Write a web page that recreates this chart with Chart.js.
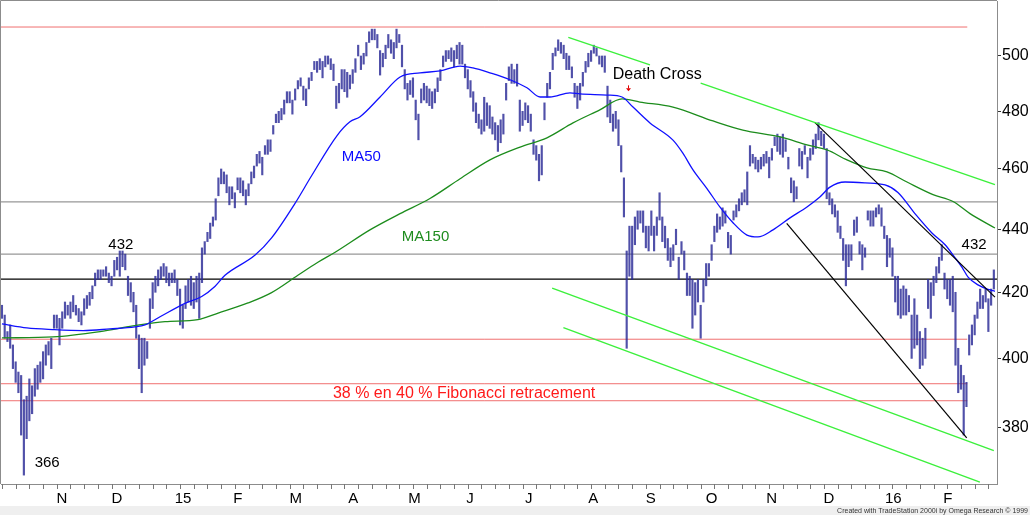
<!DOCTYPE html>
<html>
<head>
<meta charset="utf-8">
<title>AEX</title>
<script src="https://cdn.jsdelivr.net/npm/chart.js@4.4.1/dist/chart.umd.min.js"></script>
<style>
  html, body { margin: 0; padding: 0; background: #fff; }
  canvas { display: block; }
</style>
</head>
<body>
<canvas id="chart" width="1030" height="515"></canvas>
<script>
// daily bars, index 0 = mid Oct 2014, last = end Feb 2016
var lows = [
  412,406,405,403,397,393,390,378,367,377,
  382,384,389,391,393,394,398,401,397,409,
  409,404,409,412,413,412,414,413,411,410,
  413,415,416,418,422,424,424,425,425,423,
  422,425,427,425,428,427,419,417,414,406,
  397,390,398,400,409,415,420,422,424,425,
  423,422,423,423,419,410,409,415,417,416,
  415,417,412,423,432,436,437,441,443,451,
  455,455,452,448,450,447,453,452,451,448,
  451,455,457,461,462,458,465,465,466,472,
  476,476,477,479,483,483,479,484,488,489,
  484,482,488,491,495,494,495,492,496,497,
  495,491,481,483,488,487,485,488,490,494,
  500,495,497,500,505,506,506,503,493,496,
  499,503,501,499,503,505,496,488,484,486,
  485,477,470,483,484,483,482,481,483,487,
  491,496,498,499,498,496,499,497,497,492,
  488,485,480,476,474,472,473,475,474,472,
  470,466,469,472,484,491,490,490,489,473,
  475,477,476,473,465,463,456,458,477,485,
  488,495,500,502,501,499,495,495,492,485,
  481,484,489,494,496,498,501,500,497,496,
  494,478,476,473,474,468,459,444,403,425,
  424,435,440,442,439,434,433,438,433,438,
  443,436,434,430,428,430,435,424,432,427,
  419,419,409,413,417,406,417,422,425,430,
  436,439,440,441,442,434,432,443,444,446,
  448,449,448,461,462,460,459,460,461,462,
  457,463,468,466,465,464,466,460,452,449,
  450,461,460,465,457,463,465,467,470,468,
  467,450,448,445,444,439,437,430,422,428,
  430,438,439,432,427,431,443,441,441,444,
  445,441,437,428,431,425,417,413,412,413,
  413,414,400,403,404,397,398,400,415,412,
  419,423,426,430,421,418,416,414,398,390,
  391,378,386,401,404,407,412,415,415,417,
  408,416,421
];
var highs = [
  416,413,408,410,404,399,396,395,388,389,
  394,392,397,398,399,402,404,405,406,413,
  413,412,414,417,416,417,419,416,415,414,
  418,419,420,422,426,427,427,427,428,426,
  425,430,431,433,433,432,425,423,420,416,
  407,406,406,405,418,423,425,427,428,429,
  428,426,426,427,424,421,416,422,424,425,
  423,425,426,434,436,439,442,444,450,457,
  460,459,458,454,454,452,457,457,456,453,
  455,459,461,465,466,464,468,470,470,475,
  479,480,481,484,487,487,484,488,491,492,
  489,488,492,494,498,498,499,498,500,500,
  499,497,489,490,495,495,494,493,495,499,
  504,500,501,505,509,510,510,508,502,501,
  504,508,506,505,510,508,504,495,490,491,
  492,484,479,488,490,489,488,487,488,492,
  495,500,502,502,503,502,504,505,504,497,
  495,491,487,483,479,477,485,483,482,478,
  476,475,477,479,490,496,497,495,497,484,
  480,483,482,479,470,468,465,468,483,490,
  494,501,503,506,505,504,501,500,496,490,
  489,490,494,498,501,502,504,503,500,500,
  500,489,484,479,480,477,468,457,433,441,
  441,444,446,446,446,441,441,446,441,444,
  452,444,441,437,434,435,440,431,436,433,
  426,425,424,423,424,416,424,429,429,435,
  441,445,444,447,446,439,438,446,448,450,
  452,453,459,468,465,464,463,464,465,466,
  464,467,471,472,471,472,470,464,457,456,
  454,467,466,468,464,467,470,472,476,473,
  472,467,452,450,448,446,441,437,435,435,
  435,443,444,436,435,434,446,446,446,447,
  448,447,441,438,437,434,425,425,421,422,
  421,419,413,418,413,408,406,409,424,423,
  425,428,431,435,426,424,424,425,420,403,
  398,395,393,407,410,413,417,421,419,421,
  418,421,427
];

// moving averages (bar index, level)
var ma50X = [0,9.1,18.6,29.6,39.4,48.5,52.2,57.7,66.8,72.9,77.8,81.4,92.4,98.4,106.9,113,122.3,127,130.7,138,
  145.3,152.6,159.9,167.2,171.9,178.1,185.4,191.6,196.4,200,207.3,211,220.8,226.3,230.3,236.5,244.9,248.5,252.2,257.3,
  262,266.8,271.9,275.9,281.4,287.6,293.8,298.5,302.2,307.7,315,322.3,327,333.2,339.4,344.2,347.8,350.4,352.6,356.2,359.9,362.4];
var ma50Y = [410.3,409.1,408.6,408.3,408.8,409.4,410,412.5,416.6,418.7,421.9,425.3,431.7,437.2,448.4,457.7,471.5,476.3,478.1,485.1,
  492.3,493.8,494.5,496.3,495.6,493.8,491.3,488.4,485.1,485.1,486.6,486.2,485.8,485.1,481.5,475.9,469.9,465.4,459.7,453.4,
  447.3,442.1,438.1,437.5,439.8,443.7,447.3,450.6,453.9,455.6,455.3,454.6,452.1,445.1,438.8,435,430.9,427.8,424.7,422.3,420.9,420.3];
var ma150X = [0,18.6,35.8,47.8,59.5,71.5,78.9,89.8,98.4,108,115.3,121.6,134.3,145.3,156.2,167.2,178.1,189.1,198.9,208.4,
  218.2,226.3,232.8,244.9,259.5,270.4,284,293.8,301.1,308.4,315.7,323,330.3,339.8,347.1,353.3,362.4];
var ma150Y = [406.1,406.4,408,409.7,411,411.6,413.6,416.7,419.9,425.3,429.4,432.6,439.8,445.1,450.1,456.7,463.1,467.5,470.7,475.9,
  480.5,484.4,483.3,481.5,476.6,473.4,471,468.3,466.5,463.1,460.4,459,455.6,451.4,449.1,445.1,440.4];

// horizontal levels
var fibLevels = [510.8, 405.7, 392.6, 387.7];
var fibEnd = 352.3;
var greyLevels = [449, 432];
var blackLevel = 424.1;

// trend lines [x1, y1, x2, y2]
var greenLines = [
  [206.7, 506.9, 236.5, 496.7],
  [255, 490.1, 362.4, 454.7],
  [200.8, 421.3, 362, 373.7],
  [204.9, 409.2, 356.9, 365.1]
];
var blackLines = [
  [296.7, 476, 362.4, 418.5],
  [286.4, 441.9, 352.1, 377.2]
];

// axis ticks
var monthPos = [21.9,42,66.1,86.1,107.2,128.2,150.6,170.8,192.3,215.8,236.8,259,280.9,301.8,325.3,345.2];
var monthLabels = ["N","D","15","F","M","A","M","J","J","A","S","O","N","D","16","F"];
var yTicks = [380, 400, 420, 440, 460, 480, 500];

// text notes
var noteText = ["432", "366", "MA50", "MA150", "Death Cross", "432", "38 % en 40 % Fibonacci retracement"];
var noteX = [43.4, 16.5, 124, 145.9, 222.9, 354.8, 120.8];
var noteY = [435.1, 370.4, 464.2, 437.6, 493.0, 435.1, 389.7];
var crossX = 228.6, crossY = 488.2;

var fontFamily = "'Liberation Sans', Arial, sans-serif";
var noteStyle = [
  { color: "#000", align: "center" },
  { color: "#000", align: "center" },
  { color: "#0a0aff", align: "left" },
  { color: "#1e8c1e", align: "left" },
  { color: "#000", align: "left", size: 16 },
  { color: "#000", align: "center" },
  { color: "#ff1a1a", align: "left", size: 16 }
];

function segment(x1, y1, x2, y2) {
  return [{ x: x1, y: y1 }, { x: x2, y: y2 }];
}

var datasets = [];

fibLevels.forEach(function (v) {
  datasets.push({ type: "line", data: segment(-0.35, v, fibEnd, v), borderColor: "#f07070", borderWidth: 1, pointRadius: 0, order: 6 });
});
greyLevels.forEach(function (v) {
  datasets.push({ type: "line", data: segment(-0.35, v, 363.15, v), borderColor: "#979797", borderWidth: 1.2, pointRadius: 0, order: 6 });
});
datasets.push({ type: "line", data: segment(-0.35, blackLevel, 363.15, blackLevel), borderColor: "#000", borderWidth: 1.2, pointRadius: 0, order: 6 });

datasets.push({
  type: "bar",
  data: lows.map(function (lo, i) { return { x: i, y: [lo, highs[i]] }; }),
  backgroundColor: "rgba(42,42,150,0.82)",
  barThickness: 1.5,
  order: 4
});

datasets.push({
  type: "line",
  data: ma50X.map(function (x, i) { return { x: x, y: ma50Y[i] }; }),
  borderColor: "#1010ff", borderWidth: 1.3, pointRadius: 0, cubicInterpolationMode: "monotone", order: 2
});
datasets.push({
  type: "line",
  data: ma150X.map(function (x, i) { return { x: x, y: ma150Y[i] }; }),
  borderColor: "#1c8c1c", borderWidth: 1.3, pointRadius: 0, cubicInterpolationMode: "monotone", order: 2
});

greenLines.forEach(function (l) {
  datasets.push({ type: "line", data: segment(l[0], l[1], l[2], l[3]), borderColor: "#3cf03c", borderWidth: 1.4, pointRadius: 0, order: 1 });
});
blackLines.forEach(function (l) {
  datasets.push({ type: "line", data: segment(l[0], l[1], l[2], l[3]), borderColor: "#000", borderWidth: 1.2, pointRadius: 0, order: 1 });
});

var framePlugin = {
  id: "frame",
  beforeDraw: function (chart) {
    var ctx = chart.ctx;
    ctx.save();
    ctx.fillStyle = "#ffffff";
    ctx.fillRect(0, 0, chart.width, chart.height);
    ctx.fillStyle = "#efefef";
    ctx.fillRect(0, 506, chart.width, chart.height - 506);
    ctx.restore();
  },
  afterDraw: function (chart) {
    var ctx = chart.ctx, a = chart.chartArea;
    var xs = chart.scales.x, ys = chart.scales.y;
    ctx.save();
    // top and left frame
    ctx.strokeStyle = "#8c8c8c";
    ctx.lineWidth = 1;
    ctx.beginPath();
    ctx.moveTo(a.left - 0.5, a.bottom);
    ctx.lineTo(a.left - 0.5, a.top - 0.5);
    ctx.lineTo(a.right, a.top - 0.5);
    ctx.stroke();
    // weekly ticks
    ctx.strokeStyle = "#777";
    ctx.beginPath();
    for (var w = 0; w <= 362; w += 5) {
      var px = Math.round(xs.getPixelForValue(w)) + 0.5;
      ctx.moveTo(px, a.bottom);
      ctx.lineTo(px, a.bottom + 5);
    }
    ctx.stroke();
    // notes
    ctx.textBaseline = "middle";
    noteText.forEach(function (t, i) {
      var s = noteStyle[i];
      ctx.font = (s.size || 15) + "px " + fontFamily;
      ctx.fillStyle = s.color;
      ctx.textAlign = s.align;
      ctx.fillText(t, xs.getPixelForValue(noteX[i]), ys.getPixelForValue(noteY[i]));
    });
    // death cross marker
    var cx = Math.round(xs.getPixelForValue(crossX)) + 0.5, cy = ys.getPixelForValue(crossY);
    ctx.strokeStyle = "#e00000";
    ctx.fillStyle = "#e00000";
    ctx.beginPath();
    ctx.moveTo(cx, cy - 3);
    ctx.lineTo(cx, cy);
    ctx.stroke();
    ctx.beginPath();
    ctx.moveTo(cx - 2.5, cy);
    ctx.lineTo(cx + 2.5, cy);
    ctx.lineTo(cx, cy + 3);
    ctx.closePath();
    ctx.fill();
    // footer
    ctx.font = "7px 'Liberation Sans Narrow', " + fontFamily;
    ctx.fillStyle = "#333";
    ctx.textAlign = "right";
    ctx.textBaseline = "alphabetic";
    ctx.fillText("Created with TradeStation 2000i by Omega Research \u00a9 1999", 1028, 513);
    ctx.restore();
  }
};

new Chart(document.getElementById("chart"), {
  type: "bar",
  data: { datasets: datasets },
  options: {
    responsive: false,
    animation: false,
    devicePixelRatio: 1,
    layout: { padding: { left: 1, top: 1, right: 0, bottom: 0 } },
    plugins: { legend: { display: false }, tooltip: { enabled: false } },
    scales: {
      x: {
        type: "linear",
        min: -0.35,
        max: 363.15,
        offset: false,
        grid: { display: true, offset: false, drawOnChartArea: false, drawTicks: true, tickLength: 5, color: "rgba(0,0,0,0)" },
        border: { display: true, color: "#8c8c8c" },
        ticks: {
          autoSkip: false,
          maxRotation: 0,
          padding: 1,
          color: "#000",
          font: { family: fontFamily, size: 15 },
          callback: function (v, i) { return monthLabels[i]; }
        },
        afterBuildTicks: function (scale) {
          scale.ticks = monthPos.map(function (p) { return { value: p }; });
        },
        afterFit: function (scale) {
          scale.height = 31;
          scale.paddingLeft = 0;
          scale.paddingRight = 0;
        }
      },
      y: {
        type: "logarithmic",
        position: "right",
        min: 364.6,
        max: 520.7,
        grid: { drawOnChartArea: false, drawTicks: true, tickLength: 4, color: "#333" },
        border: { display: true, color: "#8c8c8c" },
        ticks: {
          padding: 1,
          color: "#000",
          font: { family: fontFamily, size: 16 },
          callback: function (v) { return String(v); }
        },
        afterBuildTicks: function (scale) {
          scale.ticks = yTicks.map(function (v) { return { value: v }; });
        },
        afterFit: function (scale) {
          scale.width = 33;
          scale.paddingTop = 0;
          scale.paddingBottom = 0;
        }
      }
    }
  },
  plugins: [framePlugin]
});
</script>
</body>
</html>
